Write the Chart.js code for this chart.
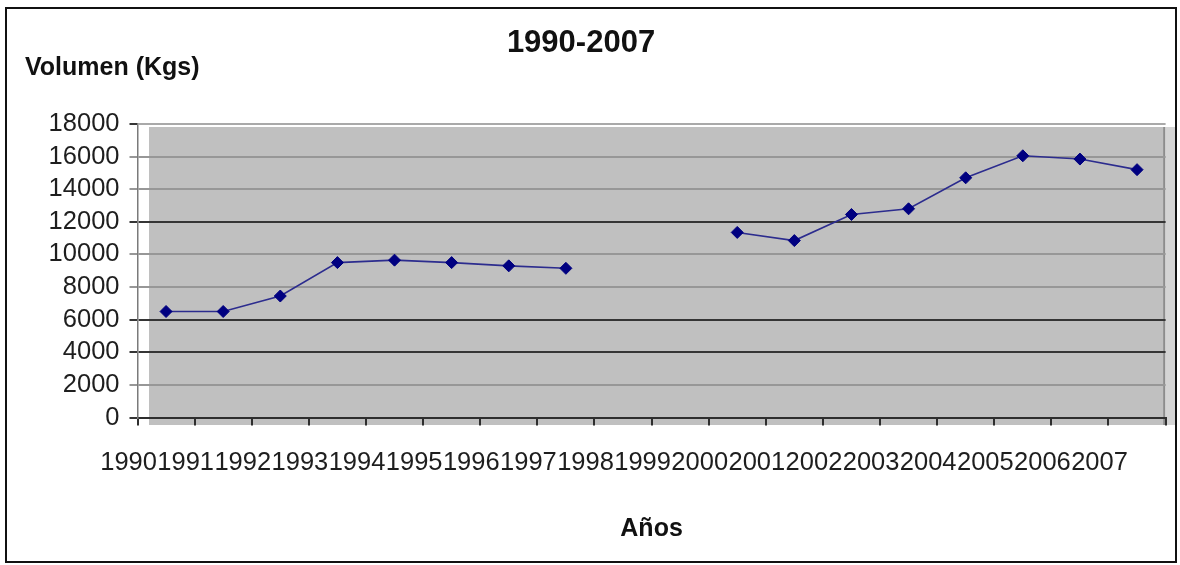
<!DOCTYPE html>
<html>
<head>
<meta charset="utf-8">
<title>Volumen 1990-2007</title>
<script src="https://cdn.jsdelivr.net/npm/chart.js@4.4.0/dist/chart.umd.min.js"></script>
<style>
  html, body { margin: 0; padding: 0; background: #fff; }
  #wrap { position: relative; width: 1180px; height: 565px; }
  #frame {
    position: absolute; left: 5px; top: 7px; width: 1172px; height: 556px;
    border: 2px solid #111; box-sizing: border-box; pointer-events: none;
  }
</style>
</head>
<body>
<div id="wrap">
  <canvas id="chart" width="1180" height="565"></canvas>
  <div id="frame"></div>
</div>
<script>
// Years on the category axis
const years = ['1990', '1991', '1992', '1993', '1994', '1995', '1996', '1997', '1998',
               '1999', '2000', '2001', '2002', '2003', '2004', '2005', '2006', '2007'];

// Volume in kilograms per year (no figures for 1998 and 1999)
const volumen = [6500, 6500, 7450, 9500, 9650, 9500, 9300, 9150, null,
                 null, 11350, 10850, 12450, 12800, 14700, 16050, 15850, 15200];

// Value axis range
const yMin = 0;
const yMax = 18000;
const yStep = 2000;

const chartTitle = '1990-2007';
const yAxisLabel = 'Volumen (Kgs)';
const xAxisLabel = 'Años';

const FONT = '"Liberation Sans", Arial, Helvetica, sans-serif';
const darkLines = [0, 4000, 6000, 12000];

// Grey plot panel with a lighter strip on its right side
const plotPanel = {
  id: 'plotPanel',
  beforeDraw(chart) {
    const { ctx, chartArea: a } = chart;
    ctx.save();
    ctx.fillStyle = '#c0c0c0';
    ctx.fillRect(a.left + 11.5, a.top + 3, (a.right - 2.5) - (a.left + 11.5), a.bottom - a.top + 4.5);
    ctx.fillStyle = '#d4d4d4';
    ctx.fillRect(a.right - 1, a.top + 3, 12, a.bottom - a.top + 4.5);
    ctx.strokeStyle = '#8c8c8c';
    ctx.lineWidth = 2;
    ctx.beginPath();
    ctx.moveTo(a.right - 1.5, a.top + 3);
    ctx.lineTo(a.right - 1.5, a.bottom + 7.5);
    ctx.stroke();
    ctx.restore();
  }
};

// Heading and value-axis caption, both horizontal
const headings = {
  id: 'headings',
  afterDraw(chart) {
    const ctx = chart.ctx;
    ctx.save();
    ctx.fillStyle = '#111';
    ctx.textBaseline = 'alphabetic';
    ctx.font = 'bold 31px ' + FONT;
    ctx.textAlign = 'center';
    ctx.fillText(chartTitle, 581, 52);
    ctx.font = 'bold 25px ' + FONT;
    ctx.textAlign = 'left';
    ctx.fillText(yAxisLabel, 25, 75);
    ctx.restore();
  }
};

new Chart(document.getElementById('chart'), {
  type: 'line',
  data: {
    labels: years,
    datasets: [{
      data: volumen,
      borderColor: '#2c2c8e',
      borderWidth: 1.6,
      tension: 0,
      spanGaps: false,
      pointStyle: 'rectRot',
      pointRadius: 6,
      pointBorderWidth: 1,
      pointBackgroundColor: '#000080',
      pointBorderColor: '#000080'
    }]
  },
  options: {
    responsive: false,
    animation: false,
    layout: { padding: { top: 124, left: 0, right: 14.4, bottom: 0 } },
    plugins: {
      legend: { display: false },
      tooltip: { enabled: false },
      title: { display: false }
    },
    scales: {
      x: {
        type: 'category',
        offset: true,
        grid: {
          offset: true,
          drawOnChartArea: false,
          drawTicks: true,
          tickLength: 8,
          tickColor: '#2e2e2e',
          lineWidth: 2
        },
        border: { color: '#2e2e2e', width: 2 },
        ticks: {
          autoSkip: false,
          maxRotation: 0,
          minRotation: 0,
          labelOffset: -37.5,
          padding: 22,
          color: '#1e1e1e',
          font: { family: FONT, size: 25.5 }
        },
        title: {
          display: true,
          text: xAxisLabel,
          color: '#111',
          font: { family: FONT, size: 25, weight: 'bold' },
          padding: { top: 0, bottom: 21 }
        },
        afterFit(scale) {
          scale.height = 147.5;
          scale.paddingLeft = 0;
          scale.paddingRight = 0;
        }
      },
      y: {
        min: yMin,
        max: yMax,
        ticks: {
          stepSize: yStep,
          autoSkip: false,
          padding: 10,
          color: '#1e1e1e',
          font: { family: FONT, size: 25.5 },
          callback: (v) => String(v)
        },
        grid: {
          lineWidth: 2,
          tickLength: 8,
          color: (c) => {
            const v = c.tick ? c.tick.value : null;
            if (darkLines.includes(v)) return '#353535';
            if (v === yMax) return '#a9a9a9';
            return '#979797';
          },
          tickColor: (c) => {
            const v = c.tick ? c.tick.value : null;
            return (darkLines.includes(v) || v === yMax) ? '#353535' : '#979797';
          }
        },
        border: { color: '#7a7a7a', width: 1.5 },
        afterFit(scale) {
          scale.width = 137.5;
        }
      }
    }
  },
  plugins: [plotPanel, headings]
});
</script>
</body>
</html>
